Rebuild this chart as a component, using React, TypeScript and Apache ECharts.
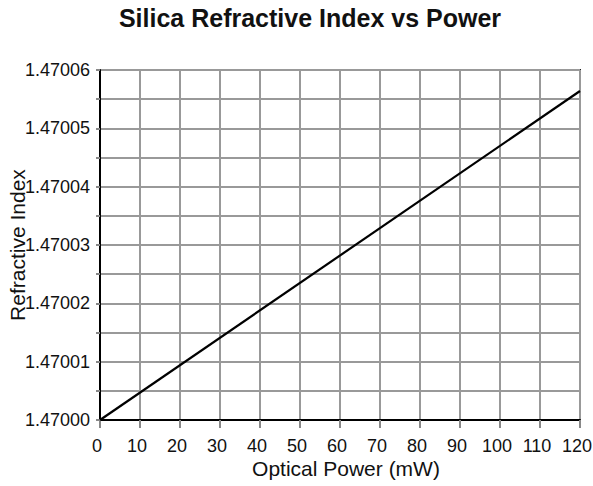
import React, { useEffect, useRef } from "react";
import * as echarts from "echarts";

const titleText = "Silica Refractive Index vs Power";
const xName = "Optical Power (mW)";
const yName = "Refractive Index";
const powerMW = [0, 120];
const refractiveIndex = [1.47, 1.4700564];
const yMin = 1.47;
const yMax = 1.47006;
const yStep = 0.000005;
const xMin = 0;
const xMax = 120;
const xStep = 10;

export default function App() {
  const ref = useRef<HTMLDivElement>(null);
  useEffect(() => {
    if (!ref.current) return;
    const chart = echarts.init(ref.current, null, { renderer: "svg" });
    const font = "Arial, 'Liberation Sans', sans-serif";
    chart.setOption({
      animation: false,
      backgroundColor: "#fff",
      title: {
        text: titleText,
        left: 305,
        top: 0,
        textAlign: "center",
        textStyle: { fontFamily: font, fontWeight: "bold", fontSize: 25, color: "#111" },
      },
      grid: {
        left: 100,
        top: 70,
        right: 13,
        bottom: 66,
        show: true,
        borderColor: "#222",
        borderWidth: 2,
        containLabel: false,
        outerBoundsMode: "none",
      },
      xAxis: {
        type: "value",
        min: xMin,
        max: xMax,
        interval: xStep,
        name: xName,
        nameLocation: "middle",
        nameGap: 38,
        nameMoveOverlap: false,
        nameTextStyle: { fontFamily: font, fontSize: 21, color: "#111", padding: [0, 0, 0, 12] },
        axisLine: { show: true, lineStyle: { color: "#000", width: 2 } },
        axisTick: { show: true, length: 8, lineStyle: { color: "#888", width: 2 } },
        axisLabel: { fontFamily: font, fontSize: 18, color: "#111", margin: 17, padding: [0, 6, 0, 0] },
        splitLine: { show: true, lineStyle: { color: "#999", width: 2 } },
      },
      yAxis: {
        type: "value",
        min: yMin,
        max: yMax,
        interval: yStep,
        name: yName,
        nameLocation: "middle",
        nameGap: 72,
        nameMoveOverlap: false,
        nameTextStyle: { fontFamily: font, fontSize: 21, color: "#111" },
        axisLine: { show: true, lineStyle: { color: "#000", width: 2 } },
        axisTick: { show: true, length: 4, lineStyle: { color: "#888", width: 2 } },
        axisLabel: {
          fontFamily: font,
          fontSize: 18,
          color: "#111",
          margin: 10,
          formatter: (v: number) => {
            const k = Math.round((v - yMin) / yStep);
            return k % 2 === 0 ? v.toFixed(5) : "";
          },
        },
        splitLine: { show: true, lineStyle: { color: "#999", width: 2 } },
      },
      series: [
        {
          type: "line",
          data: powerMW.map((x, i) => [x, refractiveIndex[i]]),
          showSymbol: false,
          lineStyle: { color: "#000", width: 2.2 },
        },
      ],
    });
    return () => chart.dispose();
  }, []);
  return (
    <div
      ref={ref}
      style={{ position: "fixed", left: 0, top: 0, width: 593, height: 486 }}
    />
  );
}
